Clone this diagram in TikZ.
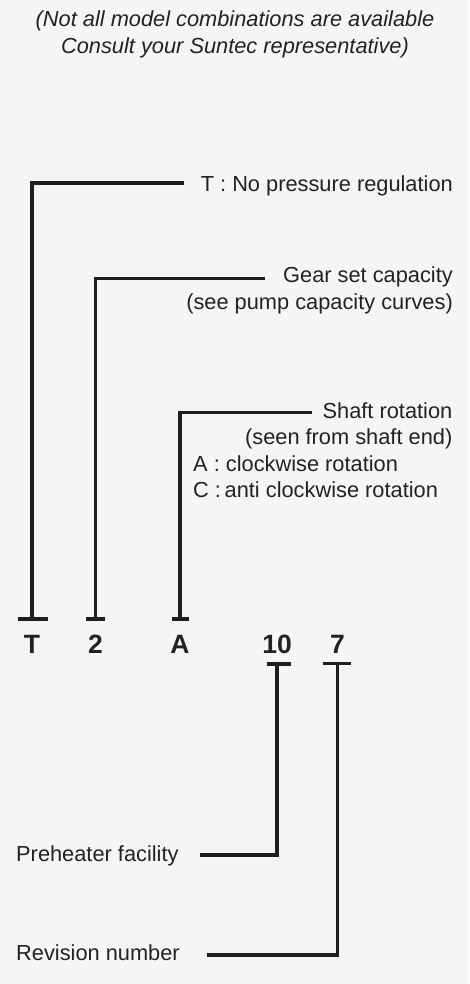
\documentclass[tikz,border=0pt]{standalone}
\usepackage{fontspec}
\setmainfont{Liberation Sans}
\definecolor{bgc}{HTML}{F5F5F5}
\definecolor{ink}{HTML}{1E1E1E}
\definecolor{txt}{HTML}{222222}
\begin{document}
\begin{tikzpicture}[x=1pt,y=-1pt,
  lbl/.style={inner sep=0pt,text=txt,font=\fontsize{21.8}{26}\selectfont},
  ttl/.style={inner sep=0pt,text=txt,font=\fontsize{21.8}{26}\selectfont\itshape},
  code/.style={inner sep=0pt,text=txt,font=\fontsize{26.5}{30}\selectfont\bfseries},
  wire/.style={draw=ink,line width=3.8pt,line join=miter,line cap=butt},
  tbar/.style={draw=ink,line width=3.3pt,line cap=butt}]
\fill[bgc] (0,0) rectangle (469,984);
\useasboundingbox (0,0) rectangle (469,984);

% title
\node[ttl,anchor=base] (t1) at (235,26.7) {(Not all model combinations are available};
\node[ttl,anchor=base] (t2) at (235,53.3) {Consult your Suntec representative)};

% code letters
\node[code,anchor=base] (cT) at (32,653) {T};
\node[code,anchor=base] (c2) at (95.5,653) {2};
\node[code,anchor=base] (cA) at (180,653) {A};
\node[code,anchor=base] (c10) at (277,653) {10};
\node[code,anchor=base] (c7) at (337.5,653) {7};

% bar coordinates
\coordinate (bT) at (32,619);
\coordinate (b2) at (95.5,619);
\coordinate (bA) at (180,619);
\coordinate (b10) at (277,664);
\coordinate (b7) at (337.5,663.5);

% T-bars
\draw[tbar] ([xshift=-14pt]bT) -- ([xshift=16pt]bT);
\draw[tbar] ([xshift=-9.5pt]b2) -- ([xshift=9.5pt]b2);
\draw[tbar] ([xshift=-8pt]bA) -- ([xshift=9pt]bA);
\draw[tbar] ([xshift=-10pt]b10) -- ([xshift=14pt]b10);
\draw[tbar] ([xshift=-14.5pt]b7) -- ([xshift=13.5pt]b7);

% labels
\node[lbl,anchor=base east] (lT) at (453,191.7) {T : No pressure regulation};
\node[lbl,anchor=base east] (l2a) at (453,282.5) {Gear set capacity};
\node[lbl,anchor=base east] (l2b) at (453,309.5) {(see pump capacity curves)};
\node[lbl,anchor=base east] (lAa) at (452.5,418.3) {Shaft rotation};
\node[lbl,anchor=base east] (lAb) at (452.5,444.8) {(seen from shaft end)};
\node[lbl,anchor=base west] (lAc) at (193,471.3) {A : clockwise rotation};
\node[lbl,anchor=base west] (lAd) at (193,497.8) {C :\,anti clockwise rotation};
\node[lbl,anchor=base west] (l10) at (16,861.5) {Preheater facility};
\node[lbl,anchor=base west] (l7) at (16,960.7) {Revision number};

% connectors
\coordinate (eT) at (184,182.7);
\coordinate (e2) at (265,278.5);
\coordinate (eA) at (311.5,412.5);
\coordinate (e10) at (200,854.7);
\coordinate (e7) at (206.7,954.8);
\draw[wire] (eT) -| (bT);
\draw[wire] (e2) -| (b2);
\draw[wire] (eA) -| (bA);
\draw[wire] (e10) -| (b10);
\draw[wire] (e7) -| (b7);
\end{tikzpicture}
\end{document}
